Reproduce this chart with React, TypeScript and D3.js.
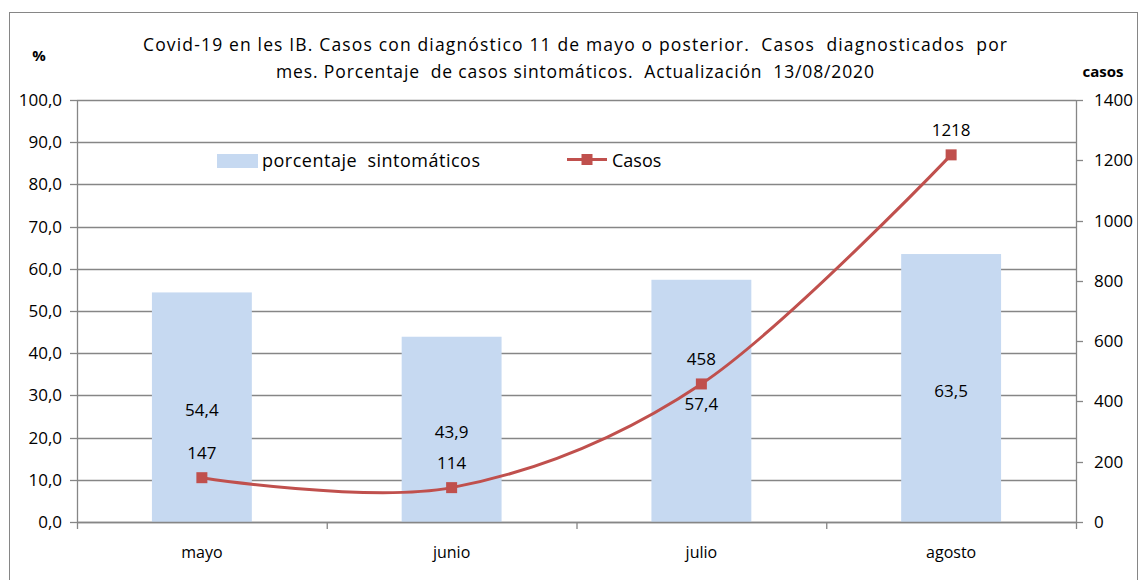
import React from "react";
import * as d3 from "d3";

const months = ["mayo", "junio", "julio", "agosto"];
const pctSintomaticos = [54.4, 43.9, 57.4, 63.5];
const casos = [147, 114, 458, 1218];
const leftTicks = [0, 10, 20, 30, 40, 50, 60, 70, 80, 90, 100];
const rightTicks = [0, 200, 400, 600, 800, 1000, 1200, 1400];
const titleLines = [
  "Covid-19 en les IB. Casos con diagnóstico 11 de mayo o posterior.  Casos  diagnosticados  por",
  "mes. Porcentaje  de casos sintomáticos.  Actualización  13/08/2020",
];

const FONT = "'Open Sans', 'Noto Sans', sans-serif";
const BAR = "#C6D9F1";
const LINE = "#C0504D";
const GRID = "#868686";

export default function App() {
  const left = 77, right = 1076, top = 100, bottom = 522;
  const x = d3.scaleBand<string>().domain(months).range([left, right]).paddingInner(0).paddingOuter(0);
  const yL = d3.scaleLinear().domain([0, 100]).range([bottom, top]);
  const yR = d3.scaleLinear().domain([0, 1400]).range([bottom, top]);
  const barW = x.bandwidth() * 0.4;
  const cx = (m: string) => (x(m) as number) + x.bandwidth() / 2;

  const pts: [number, number][] = months.map((m, i) => [cx(m), yR(casos[i])]);
  const linePath = d3.line().curve(d3.curveCardinal.tension(0))(pts) || "";
  const fmt = (v: number) => v.toFixed(1).replace(".", ",");
  const pre = { whiteSpace: "pre" as const };

  return (
    <svg width={1140} height={580} style={{ position: "absolute", left: 0, top: 0, fontFamily: FONT }}>
      <rect x={0} y={0} width={1140} height={580} fill="#fff" />
      <rect x={9.5} y={12.5} width={1128} height={600} fill="none" stroke={GRID} strokeWidth={1} />
      {/* title */}
      <text x={575} y={51} textAnchor="middle" fontSize={17.5} fill="#000" style={pre} textLength={864} lengthAdjust="spacing">{titleLines[0]}</text>
      <text x={575} y={78} textAnchor="middle" fontSize={17.5} fill="#000" style={pre} textLength={598} lengthAdjust="spacing">{titleLines[1]}</text>
      <text x={39} y={61} textAnchor="middle" fontSize={15} fontWeight="bold">%</text>
      <text x={1103} y={77} textAnchor="middle" fontSize={15} fontWeight="bold">casos</text>

      {/* gridlines */}
      {leftTicks.map((t) => (
        <line key={"g" + t} x1={left} x2={right} y1={Math.round(yL(t)) + 0.5} y2={Math.round(yL(t)) + 0.5} stroke={GRID} strokeWidth={1.3} />
      ))}
      {/* bars */}
      {months.map((m, i) => (
        <rect key={"b" + m} x={cx(m) - barW / 2} y={yL(pctSintomaticos[i])} width={barW} height={bottom - yL(pctSintomaticos[i])} fill={BAR} />
      ))}
      {/* axes */}
      <line x1={left + 0.5} x2={left + 0.5} y1={top} y2={bottom + 7} stroke={GRID} strokeWidth={1.3} />
      <line x1={right + 0.5} x2={right + 0.5} y1={top} y2={bottom + 7} stroke={GRID} strokeWidth={1.3} />
      <line x1={left} x2={right} y1={bottom + 0.5} y2={bottom + 0.5} stroke={GRID} strokeWidth={1.3} />
      {leftTicks.map((t) => (
        <g key={"l" + t}>
          <line x1={70} x2={left} y1={Math.round(yL(t)) + 0.5} y2={Math.round(yL(t)) + 0.5} stroke={GRID} strokeWidth={1.3} />
          <text x={62} y={yL(t)} dy="0.35em" textAnchor="end" fontSize={17}>{fmt(t)}</text>
        </g>
      ))}
      {rightTicks.map((t) => (
        <g key={"r" + t}>
          <line x1={right} x2={right + 7} y1={Math.round(yR(t)) + 0.5} y2={Math.round(yR(t)) + 0.5} stroke={GRID} strokeWidth={1.3} />
          <text x={1094} y={yR(t)} dy="0.35em" textAnchor="start" fontSize={17}>{t}</text>
        </g>
      ))}
      {months.slice(1).map((m) => (
        <line key={"xt" + m} x1={(x(m) as number) + 0.5} x2={(x(m) as number) + 0.5} y1={bottom} y2={bottom + 7} stroke={GRID} strokeWidth={1.3} />
      ))}
      {months.map((m) => (
        <text key={"xl" + m} x={cx(m)} y={552} dy="0.35em" textAnchor="middle" fontSize={16}>{m}</text>
      ))}

      {/* bar labels */}
      {months.map((m, i) => (
        <text key={"bl" + m} x={cx(m)} y={(yL(pctSintomaticos[i]) + bottom) / 2 + 3} dy="0.35em" textAnchor="middle" fontSize={17}>{fmt(pctSintomaticos[i])}</text>
      ))}

      {/* line */}
      <path d={linePath} fill="none" stroke={LINE} strokeWidth={3} />
      {pts.map((p, i) => (
        <rect key={"m" + i} x={p[0] - 5.5} y={p[1] - 5.5} width={11} height={11} fill={LINE} />
      ))}
      {pts.map((p, i) => (
        <text key={"cl" + i} x={p[0]} y={p[1] - 25} dy="0.35em" textAnchor="middle" fontSize={17}>{casos[i]}</text>
      ))}

      {/* legend */}
      <rect x={217} y={154} width={41} height={14} fill={BAR} />
      <text x={262} y={161} dy="0.35em" fontSize={18} style={pre} textLength={218} lengthAdjust="spacing">porcentaje  sintomáticos</text>
      <line x1={567} x2={607} y1={159.5} y2={159.5} stroke={LINE} strokeWidth={3} />
      <rect x={581.5} y={154} width={11} height={11} fill={LINE} />
      <text x={612} y={161} dy="0.35em" fontSize={18}>Casos</text>
    </svg>
  );
}
